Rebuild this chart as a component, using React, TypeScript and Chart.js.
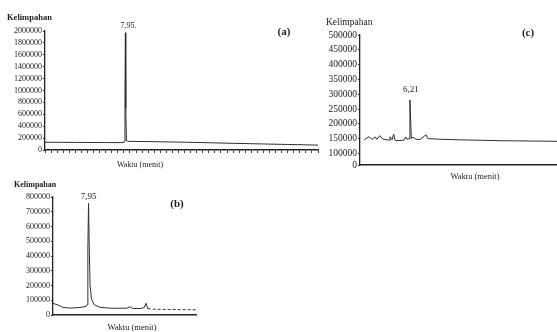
import React, { useEffect, useRef } from 'react';
import { Chart, registerables } from 'chart.js';
Chart.register(...registerables);

// ---------- Chromatogram (a) ----------
const aTimes = [0, 3, 6, 7.6, 7.86, 7.91, 7.95, 7.99, 8.05, 8.2, 10, 14, 18, 22, 25, 27];
const aValues = [130000, 128000, 125000, 124000, 135000, 900000, 1970000, 700000, 160000, 145000, 142000, 130000, 115000, 100000, 90000, 82000];
const aPeak = { time: 7.95, value: 1970000, label: '7,95.' };

// ---------- Chromatogram (b) ----------
const bTimes = [0, 1.1, 2.2, 3.8, 6.0, 7.4, 7.65, 7.8, 7.95, 8.1, 8.3, 8.6, 9.2, 10.5, 13, 16.5, 17.2, 17.8, 19.5, 20.4, 20.8, 21.2, 22, 26, 32];
const bValues = [79000, 68000, 52000, 47000, 51000, 58000, 70000, 450000, 757000, 480000, 200000, 110000, 70000, 52000, 46000, 46000, 56000, 45000, 44000, 50000, 79000, 45000, 40000, 37000, 35000];
const bPeak = { time: 7.95, value: 757000, label: '7,95' };

// ---------- Chromatogram (c) ----------
const cTimes = [0.53, 1.12, 1.49, 1.87, 2.11, 2.45, 2.86, 3.61, 3.73, 3.98, 4.19, 4.35, 4.48, 5.47, 5.69, 5.85, 6.1, 6.21, 6.38, 6.59, 6.97, 7.46, 8.21, 8.46, 9.95, 12.44, 17.42, 24.5];
const cValues = [146000, 157000, 147000, 156000, 148000, 160000, 148000, 145000, 156000, 146000, 165000, 146000, 143000, 145000, 156000, 148000, 150000, 281000, 150000, 155000, 148000, 147000, 163000, 150000, 148000, 146000, 143000, 141000];
const cPeak = { time: 6.21, value: 281000, label: '6,21' };
const cYMin = 61000; // broken axis: bottom tick reads "0"
const cTickValues = [cYMin, 100000, 150000, 200000, 250000, 300000, 350000, 400000, 450000, 500000];
const cTickLabels = ['0', '100000', '150000', '200000', '250000', '300000', '350000', '400000', '450000', '500000'];

const yTitle = 'Kelimpahan';
const xTitle = 'Waktu (menit)';

const SERIF = "'Liberation Serif', 'DejaVu Serif', 'Times New Roman', serif";
const INK = '#1c1c1c';
const LINE = '#2e2e2e';

type TextItem = { text: string; x: number; y: number; font: string; align?: CanvasTextAlign };
type Peak = { time: number; value: number; label: string };

function makeTextPlugin(id: string, items: TextItem[], peak: Peak, peakFont: string, dx: number, dy: number) {
  return {
    id,
    afterDraw(chart: any) {
      const ctx = chart.ctx as CanvasRenderingContext2D;
      ctx.save();
      ctx.fillStyle = INK;
      ctx.textBaseline = 'middle';
      for (const it of items) {
        ctx.font = it.font;
        ctx.textAlign = it.align || 'left';
        ctx.fillText(it.text, it.x, it.y);
      }
      const px = chart.scales.x.getPixelForValue(peak.time);
      const py = chart.scales.y.getPixelForValue(peak.value);
      ctx.font = peakFont;
      ctx.textAlign = 'center';
      ctx.fillText(peak.label, px + dx, py + dy);
      ctx.restore();
    },
  };
}

function toPoints(t: number[], v: number[]) {
  return t.map((x, i) => ({ x, y: v[i] }));
}

function baseOptions(pad: any, xMin: number, xMax: number, xStep: number | null, xTickLen: number, xAxisH: number, yAxisW: number, yFont: number) {
  return {
    responsive: false,
    animation: false as const,
    layout: { padding: pad },
    plugins: { legend: { display: false }, tooltip: { enabled: false }, title: { display: false } },
    elements: { line: { tension: 0 }, point: { radius: 0 } },
    scales: {
      x: {
        type: 'linear' as const,
        min: xMin,
        max: xMax,
        ticks: { display: false, ...(xStep ? { stepSize: xStep } : {}) },
        grid: { display: xTickLen > 0, drawOnChartArea: false, drawTicks: true, tickLength: xTickLen, color: '#3a3a3a', lineWidth: 1 },
        border: { display: true, color: '#222', width: 1.6 },
        afterFit: (s: any) => { s.height = xAxisH; },
      },
      y: {
        type: 'linear' as const,
        ticks: { color: INK, font: { family: SERIF, size: yFont }, padding: 1, autoSkip: false },
        grid: { display: true, drawOnChartArea: false, drawTicks: true, tickLength: 2, color: '#333' },
        border: { display: true, color: '#222', width: 1.3 },
        afterFit: (s: any) => { s.width = yAxisW; },
      } as any,
    },
  };
}

function configA() {
  const opts: any = baseOptions({ left: 0, top: 31, right: 4, bottom: 0 }, 0, 27, 0.6, 3, 25, 45, 8);
  opts.scales.y.min = 0;
  opts.scales.y.max = 2000000;
  opts.scales.y.ticks.stepSize = 200000;
  opts.scales.y.ticks.callback = (v: number) => String(v);
  return {
    type: 'line' as const,
    data: { datasets: [{ data: toPoints(aTimes, aValues), borderColor: LINE, borderWidth: 1, pointRadius: 0 }] },
    options: opts,
    plugins: [makeTextPlugin('txtA', [
      { text: yTitle, x: 7, y: 18, font: `bold 8.5px ${SERIF}` },
      { text: '(a)', x: 284, y: 32, font: `bold 11px ${SERIF}`, align: 'center' },
      { text: xTitle, x: 140, y: 165, font: `8px ${SERIF}`, align: 'center' },
    ], aPeak, `8px ${SERIF}`, 3, -7)],
  };
}

function configB() {
  const opts: any = baseOptions({ left: 0, top: 22, right: 14, bottom: 0 }, 0, 32, null, 0, 17, 53, 8);
  opts.scales.y.min = 0;
  opts.scales.y.max = 800000;
  opts.scales.y.ticks.stepSize = 100000;
  opts.scales.y.ticks.callback = (v: number) => String(v);
  return {
    type: 'line' as const,
    data: {
      datasets: [{
        data: toPoints(bTimes, bValues), borderColor: LINE, borderWidth: 1, pointRadius: 0,
        segment: { borderDash: (c: any) => (c.p0.parsed.x >= 21.2 ? [3, 2] : undefined) },
      }],
    },
    options: opts,
    plugins: [makeTextPlugin('txtB', [
      { text: yTitle, x: 14, y: 10, font: `bold 8px ${SERIF}` },
      { text: '(b)', x: 177, y: 29, font: `bold 11px ${SERIF}`, align: 'center' },
      { text: xTitle, x: 132, y: 153, font: `8.5px ${SERIF}`, align: 'center' },
    ], bPeak, `9px ${SERIF}`, 0, -7)],
  };
}

function configC() {
  const opts: any = baseOptions({ left: 0, top: 35, right: 0, bottom: 0 }, 0, 24.5, null, 0, 25, 38, 9.5);
  opts.scales.y.min = cYMin;
  opts.scales.y.max = 500000;
  opts.scales.y.afterBuildTicks = (s: any) => { s.ticks = cTickValues.map((v) => ({ value: v })); };
  opts.scales.y.ticks.callback = (_v: number, i: number) => cTickLabels[i];
  return {
    type: 'line' as const,
    data: { datasets: [{ data: toPoints(cTimes, cValues), borderColor: LINE, borderWidth: 1, pointRadius: 0 }] },
    options: opts,
    plugins: [makeTextPlugin('txtC', [
      { text: yTitle, x: 4, y: 22, font: `9.5px ${SERIF}` },
      { text: '(c)', x: 206, y: 33, font: `bold 11px ${SERIF}`, align: 'center' },
      { text: xTitle, x: 153, y: 177, font: `8.5px ${SERIF}`, align: 'center' },
    ], cPeak, `9px ${SERIF}`, 1, -10)],
  };
}

function ChromChart(props: { left: number; top: number; width: number; height: number; make: () => any }) {
  const ref = useRef<HTMLCanvasElement>(null);
  useEffect(() => {
    const chart = new Chart(ref.current as HTMLCanvasElement, props.make());
    return () => chart.destroy();
  }, []);
  return (
    <div style={{ position: 'absolute', left: props.left, top: props.top, width: props.width, height: props.height }}>
      <canvas ref={ref} width={props.width} height={props.height} style={{ width: props.width, height: props.height, display: 'block' }} />
    </div>
  );
}

export default function App() {
  return (
    <div style={{ position: 'absolute', left: 0, top: 0, width: 557, height: 332, background: '#fff', overflow: 'hidden' }}>
      <ChromChart left={0} top={0} width={322} height={175} make={configA} />
      <ChromChart left={322} top={0} width={235} height={190} make={configC} />
      <ChromChart left={0} top={175} width={210} height={157} make={configB} />
    </div>
  );
}
